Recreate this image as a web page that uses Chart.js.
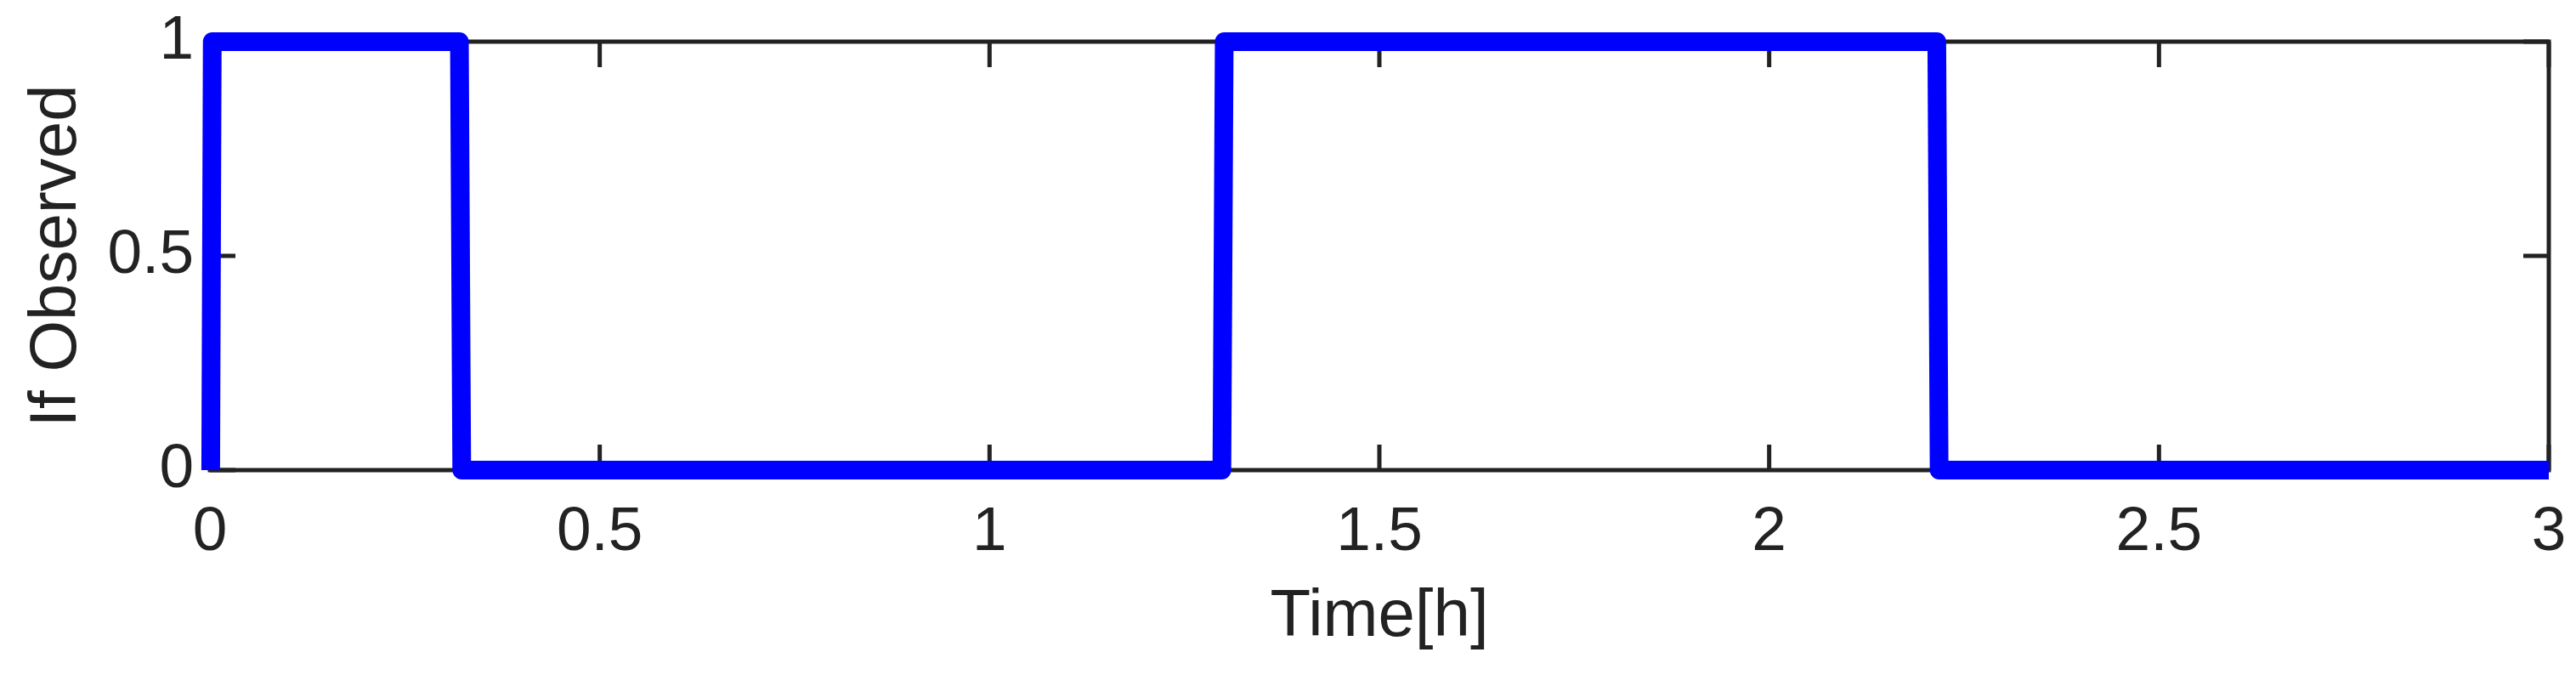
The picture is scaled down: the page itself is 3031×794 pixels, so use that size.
<!DOCTYPE html>
<html>
<head>
<meta charset="utf-8">
<title>If Observed</title>
<script src="https://cdn.jsdelivr.net/npm/chart.js@4/dist/chart.umd.min.js"></script>
<style>
    body { margin: 0; background: #fff; }
    #wrap { width: 3031px; height: 794px; position: relative; }
</style>
</head>
<body>
<div id="wrap"><canvas id="observedChart"></canvas></div>
<script>
const timeHours = [0.001, 0.003, 0.320, 0.323, 1.298, 1.301, 2.215, 2.218, 3.0];
const observed = [0, 1, 1, 0, 0, 1, 1, 0, 0];
const xTicks = [0, 0.5, 1, 1.5, 2, 2.5, 3];
const yTicks = [0, 0.5, 1];

const FONT = "'Liberation Sans', Arial, Helvetica, sans-serif";
const INK = "#222222";

// Marco completo con marcas hacia dentro (estilo MATLAB)
const framePlugin = {
    id: "frame",
    beforeDatasetsDraw(chart) {
        const { ctx, chartArea: a, scales } = chart;
        const tickLen = 30;
        ctx.save();
        ctx.strokeStyle = INK;
        ctx.lineWidth = 5;
        ctx.strokeRect(a.left, a.top, a.right - a.left, a.bottom - a.top);
        ctx.beginPath();
        scales.x.ticks.forEach(t => {
            const px = scales.x.getPixelForValue(t.value);
            ctx.moveTo(px, a.bottom); ctx.lineTo(px, a.bottom - tickLen);
            ctx.moveTo(px, a.top); ctx.lineTo(px, a.top + tickLen);
        });
        scales.y.ticks.forEach(t => {
            const py = scales.y.getPixelForValue(t.value);
            ctx.moveTo(a.left, py); ctx.lineTo(a.left + tickLen, py);
            ctx.moveTo(a.right, py); ctx.lineTo(a.right - tickLen, py);
        });
        ctx.stroke();
        ctx.restore();
    }
};

// Numeros sin ceros sobrantes, como "1" o "0.5"
const plainNumber = v => String(Number(v));

const ctx = document.getElementById("observedChart").getContext("2d");
new Chart(ctx, {
    type: "line",
    data: {
        datasets: [{
            label: "If Observed",
            data: timeHours.map((t, i) => ({ x: t, y: observed[i] })),
            borderColor: "#0000ff",
            borderWidth: 22,
            borderJoinStyle: "round",
            borderCapStyle: "butt",
            pointRadius: 0,
            tension: 0,
            fill: false,
            clip: false
        }]
    },
    options: {
        responsive: true,
        maintainAspectRatio: false,
        animation: false,
        layout: { padding: { left: 0, top: 49, right: 32, bottom: 0 } },
        plugins: { legend: { display: false }, tooltip: { enabled: false } },
        scales: {
            x: {
                type: "linear",
                min: 0,
                max: 3,
                afterBuildTicks: s => { s.ticks = xTicks.map(v => ({ value: v })); },
                afterFit: s => { s.height = 241; s.paddingLeft = 0; s.paddingRight = 0; },
                grid: { display: false, drawTicks: false },
                border: { display: false },
                ticks: { color: INK, padding: 30, maxRotation: 0, callback: plainNumber, font: { family: FONT, size: 73 } },
                title: { display: true, text: "Time[h]", color: INK, padding: { top: 0, bottom: 21 }, font: { family: FONT, size: 78 } }
            },
            y: {
                type: "linear",
                min: 0,
                max: 1,
                afterBuildTicks: s => { s.ticks = yTicks.map(v => ({ value: v })); },
                afterFit: s => { s.width = 247; s.paddingTop = 0; s.paddingBottom = 0; },
                grid: { display: false, drawTicks: false },
                border: { display: false },
                ticks: { color: INK, padding: 19, callback: plainNumber, font: { family: FONT, size: 73 } },
                title: { display: true, text: "If Observed", color: INK, padding: { top: 21, bottom: 0 }, font: { family: FONT, size: 78 } }
            }
        }
    },
    plugins: [framePlugin]
});
</script>
</body>
</html>
